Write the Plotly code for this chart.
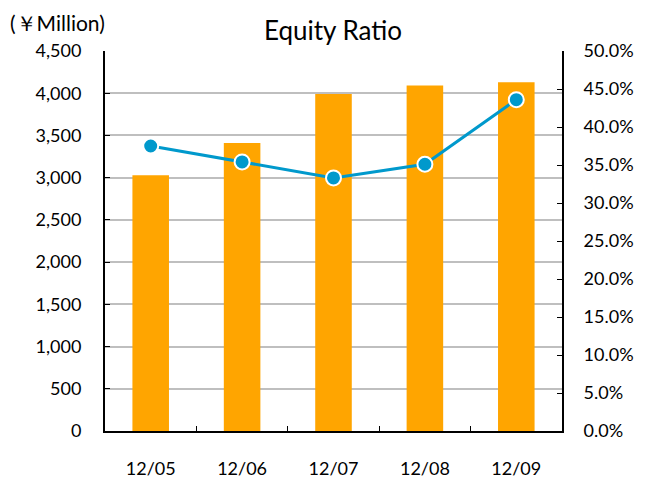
import plotly.graph_objects as go

periods = ["12/05", "12/06", "12/07", "12/08", "12/09"]
net_assets = [3030, 3410, 3990, 4090, 4130]
equity_ratio = [0.375, 0.354, 0.333, 0.351, 0.436]

font_family = "Lato, Open Sans, sans-serif"

fig = go.Figure()
fig.add_trace(go.Bar(
    x=periods,
    y=net_assets,
    marker=dict(color="#FFA500", line=dict(width=0)),
    width=0.4,
    yaxis="y",
    name="Net Assets",
))
fig.add_trace(go.Scatter(
    x=periods,
    y=equity_ratio,
    mode="lines+markers",
    line=dict(color="#0099CC", width=3),
    marker=dict(size=15, color="#0099CC", line=dict(color="white", width=2)),
    yaxis="y2",
    name="Equity Ratio",
))

fig.update_layout(
    width=648,
    height=481,
    margin=dict(l=105, r=86, t=51, b=50, autoexpand=False),
    paper_bgcolor="white",
    plot_bgcolor="white",
    showlegend=False,
    font=dict(family=font_family, size=18, color="black"),
    title=dict(text="Equity Ratio", x=333 / 648, xanchor="center",
               y=1 - 31 / 481, yanchor="middle", font=dict(size=26)),
    xaxis=dict(
        automargin=False,
        showline=True, linecolor="black", linewidth=2,
        ticks="inside", tickson="boundaries", ticklen=5, tickcolor="black",
        ticklabelstandoff=20,
        showgrid=False,
    ),
    yaxis=dict(
        automargin=False,
        range=[0, 4500], dtick=500, tickformat=",",
        showline=True, linecolor="black", linewidth=2,
        ticks="inside", ticklen=5, tickcolor="black",
        gridcolor="#BFBFBF", gridwidth=1.5,
        ticklabelstandoff=18, zeroline=False,
    ),
    yaxis2=dict(
        automargin=False,
        range=[0, 0.5], dtick=0.05, tickformat=".1%",
        overlaying="y", side="right",
        showline=True, linecolor="black", linewidth=2,
        ticks="inside", ticklen=5, tickcolor="black",
        showgrid=False, zeroline=False,
        ticklabelstandoff=16,
    ),
    annotations=[dict(
        text="(￥Million)", xref="paper", yref="paper",
        x=-97 / 457, y=1 + 29 / 380, xanchor="left", yanchor="middle",
        showarrow=False, font=dict(size=21),
    )],
)

fig.write_html("out.html", config={"displayModeBar": False},
               post_script="document.body.style.margin='0px';")
